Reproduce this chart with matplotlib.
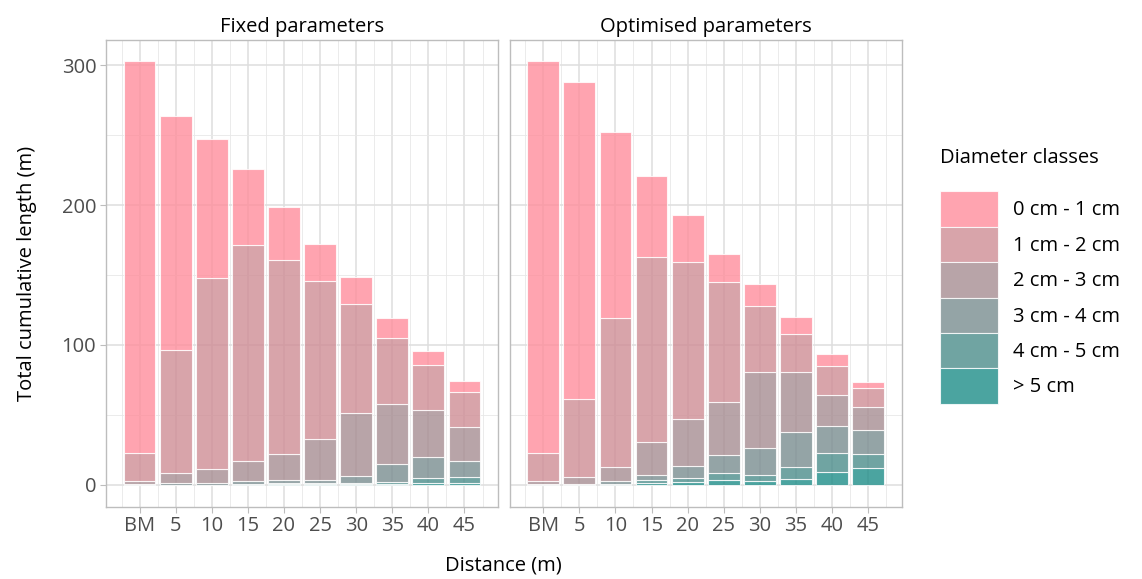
import numpy as np
import matplotlib
matplotlib.use("Agg")
import matplotlib.pyplot as plt
from matplotlib.patches import Patch

plt.rcParams['font.family'] = ['Open Sans', 'DejaVu Sans']

distances = ['BM', '5', '10', '15', '20', '25', '30', '35', '40', '45']
classes = ['0 cm - 1 cm', '1 cm - 2 cm', '2 cm - 3 cm', '3 cm - 4 cm', '4 cm - 5 cm', '> 5 cm']
panels = ['Fixed parameters', 'Optimised parameters']

# length (m) per diameter class, one list per class, one value per distance
fixed_0_1 = [280, 167.4, 99, 54.5, 38.1, 26.9, 19.5, 14.7, 10, 8.3]
fixed_1_2 = [20.4, 88, 136.8, 154.3, 138.6, 112.9, 78.1, 47.2, 32.2, 25.2]
fixed_2_3 = [2.2, 7.2, 10.2, 14.3, 18.6, 29.3, 45, 42.8, 33.5, 24.1]
fixed_3_4 = [0.4, 1.0, 0.8, 1.8, 1.8, 2.3, 4.8, 12.9, 14.6, 11.4]
fixed_4_5 = [0, 0.2, 0.2, 0.6, 1.0, 0.6, 1.0, 1.3, 4.0, 4.3]
fixed_5p = [0, 0, 0, 0.2, 0.5, 0.4, 0.4, 0.6, 1.2, 1.2]

opt_0_1 = [280, 227.1, 133.4, 58.4, 33.6, 20.2, 15.8, 12, 8.8, 4.8]
opt_1_2 = [20.4, 55.7, 106.4, 132.1, 112.1, 85.8, 47, 27.5, 20.8, 13.5]
opt_2_3 = [2.2, 5.0, 10, 23.6, 33.6, 37.6, 54.8, 42.9, 22.1, 16.2]
opt_3_4 = [0.4, 0.5, 2.0, 3.3, 8.3, 13.1, 19.5, 25, 19, 17.2]
opt_4_5 = [0, 0, 0.4, 2.4, 3.1, 5.2, 3.8, 8.6, 13.6, 10]
opt_5p = [0, 0, 0.2, 1.2, 1.9, 3.1, 2.9, 4, 9.3, 12.1]

fixed = [fixed_0_1, fixed_1_2, fixed_2_3, fixed_3_4, fixed_4_5, fixed_5p]
optimised = [opt_0_1, opt_1_2, opt_2_3, opt_3_4, opt_4_5, opt_5p]

colors = ['#FF8E9C', '#CF8D95', '#A78D92', '#7A8D90', '#4C8D8B', '#1E8D88']
alpha = 0.8
fs = 14.5

fig = plt.figure(figsize=(11.42, 5.79), dpi=100)
ax1 = fig.add_axes([0.0928, 0.1252, 0.3433, 0.8057])
ax2 = fig.add_axes([0.4463, 0.1252, 0.3433, 0.8057], sharey=ax1)

x = np.arange(len(distances))
for ax, data, title in zip([ax1, ax2], [fixed, optimised], panels):
    bottom = np.zeros(len(distances))
    # stack from the largest class upward, smallest class on top
    for vals, col in zip(data[::-1], colors[::-1]):
        vals = np.array(vals)
        ax.bar(x, vals, bottom=bottom, width=0.88, color=col, alpha=alpha,
               edgecolor='white', linewidth=0.8, zorder=3)
        bottom += vals
    ax.set_xlim(-0.93, 9.93)
    ax.set_ylim(-15.5, 318)
    ax.set_xticks(x)
    ax.set_xticklabels(distances)
    ax.set_xticks(np.arange(-0.5, 10, 1), minor=True)
    ax.set_yticks([0, 100, 200, 300])
    ax.set_yticks([50, 150, 250], minor=True)
    ax.grid(which='major', color='#DEDEDE', linewidth=1.1, zorder=0)
    ax.grid(which='minor', color='#E8E8E8', linewidth=0.6, zorder=0)
    ax.set_axisbelow(True)
    for s in ax.spines.values():
        s.set_color('#BDBDBD')
        s.set_linewidth(1.0)
    ax.tick_params(which='major', length=4, color='#BDBDBD', labelsize=fs,
                   labelcolor='#4D4D4D', pad=3)
    ax.tick_params(which='minor', length=0)
    ax.set_title(title, fontsize=fs, pad=6)

ax2.tick_params(axis='y', which='both', labelleft=False, length=0)
ax1.set_ylabel('Total cumulative length (m)', fontsize=fs, labelpad=18)
fig.text(0.4412, 0.006, 'Distance (m)', fontsize=fs, ha='center', va='bottom')

handles = [Patch(facecolor=c, alpha=alpha, edgecolor='white', linewidth=0.8) for c in colors]
leg = fig.legend(handles, classes, loc='upper left', bbox_to_anchor=(0.823, 0.745),
                 frameon=False, fontsize=fs, title='Diameter classes', title_fontsize=fs,
                 handlelength=2.9, handleheight=2.33, labelspacing=0, handletextpad=0.75,
                 borderpad=0, borderaxespad=0, alignment='left')
leg._legend_box.sep = 17

fig.savefig('out.png', dpi=100)
